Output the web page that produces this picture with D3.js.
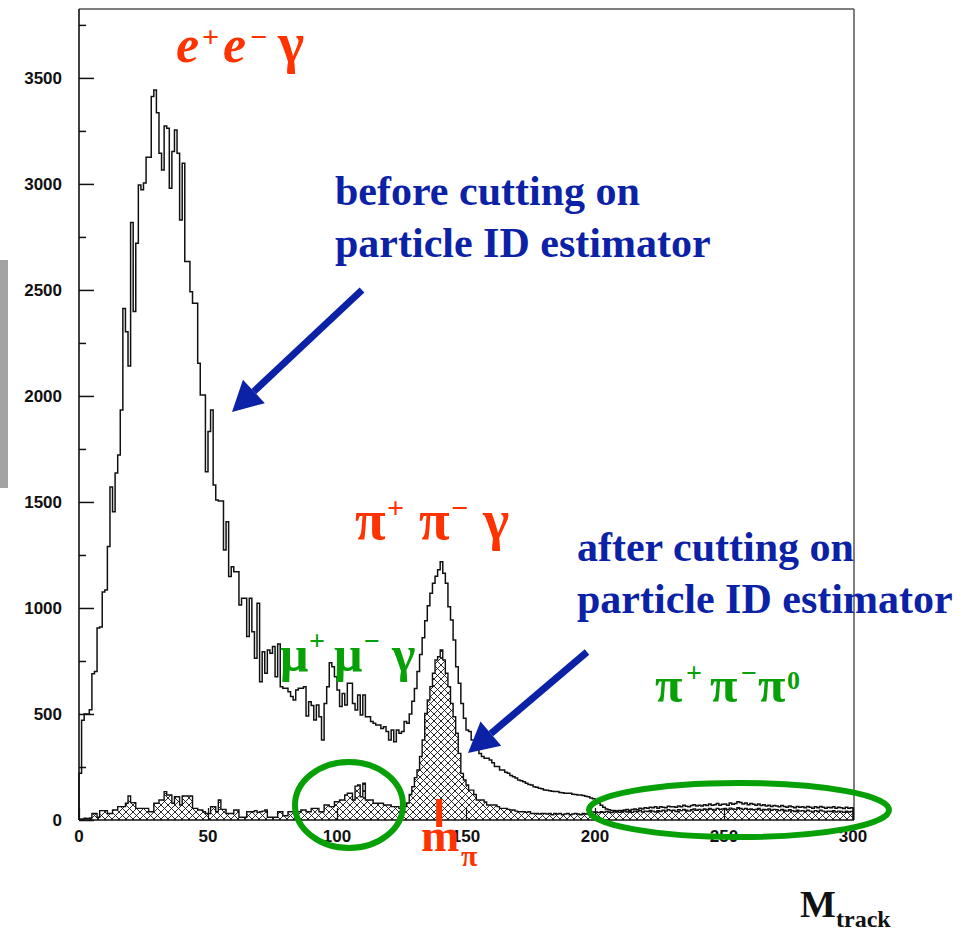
<!DOCTYPE html>
<html>
<head>
<meta charset="utf-8">
<script src="https://cdn.jsdelivr.net/npm/d3@7"></script>
<style>
  body { margin: 0; background: #fff; }
  svg { display: block; }
  .tick-label { font-family: "Liberation Sans", Arial, sans-serif; font-weight: bold; font-size: 17px; fill: #111; }
  .note { font-family: "Liberation Serif", "Times New Roman", serif; font-weight: bold; }
</style>
</head>
<body>
<div id="chart"></div>
<script>
// histogram x axis: M_track, one bin per unit from 0 to 300
let xTickValues = [0, 50, 100, 150, 200, 250, 300];
let yTickValues = [0, 500, 1000, 1500, 2000, 2500, 3000, 3500];

// entries per bin before the particle ID cut (open histogram)
let beforeCounts = [
  220, 470, 500, 500, 520, 690, 700, 905, 910, 1075,
  1085, 1290, 1571, 1454, 1637, 1722, 1934, 2413, 2303, 2141,
  2818, 2398, 2720, 2995, 2972, 3004, 3126, 3126, 3412, 3443,
  3336, 3145, 3066, 3273, 3262, 2980, 3153, 3254, 3145, 2830,
  3098, 2634, 2634, 2492, 2437, 2437, 2154, 2004, 2004, 1643,
  1832, 1934, 1580, 1509, 1505, 1505, 1274, 1407, 1148, 1195,
  1171, 1171, 1014, 1046, 1046, 865, 1046, 888, 763, 1022,
  652, 794, 692, 802, 786, 818, 676, 830, 629, 621,
  621, 605, 582, 566, 613, 621, 621, 629, 490, 558,
  540, 472, 542, 487, 377, 550, 629, 742, 723, 676,
  613, 535, 597, 542, 645, 645, 550, 519, 590, 495,
  590, 487, 487, 464, 456, 448, 448, 432, 440, 417,
  377, 425, 369, 425, 409, 417, 464, 456, 500, 560,
  620, 700, 780, 860, 940, 1010, 1070, 1117, 1150, 1180,
  1218, 1164, 1117, 1006, 943, 849, 723, 645, 550, 480,
  425, 417, 377, 360, 340, 314, 300, 291, 291, 283,
  270, 252, 252, 236, 236, 225, 220, 210, 204, 198,
  189, 185, 180, 173, 168, 165, 157, 155, 150, 147,
  141, 140, 138, 136, 134, 134, 130, 128, 126, 126,
  126, 122, 120, 118, 118, 115, 112, 110, 104, 100,
  94, 80, 70, 60, 52, 48, 45, 45, 42, 45,
  45, 47, 50, 45, 50, 52, 48, 55, 52, 58,
  55, 60, 58, 62, 55, 63, 60, 58, 65, 62,
  63, 60, 66, 62, 70, 65, 63, 68, 72, 66,
  70, 66, 72, 68, 75, 70, 72, 78, 70, 74,
  76, 70, 80, 74, 78, 86, 82, 76, 80, 72,
  78, 74, 70, 76, 68, 72, 66, 70, 64, 68,
  66, 62, 68, 64, 60, 66, 62, 58, 64, 60,
  62, 58, 64, 60, 56, 62, 58, 64, 60, 56,
  60, 58, 62, 56, 60, 58, 54, 60, 56, 58
];

// entries per bin after the cut (cross-hatched histogram)
let afterCounts = [
  5, 5, 8, 6, 10, 31, 31, 13, 44, 44,
  44, 31, 31, 47, 47, 63, 63, 63, 79, 113,
  82, 82, 55, 55, 55, 55, 55, 39, 39, 79,
  79, 94, 94, 134, 118, 118, 79, 110, 110, 71,
  113, 113, 113, 113, 55, 55, 47, 47, 39, 31,
  31, 63, 63, 39, 94, 50, 50, 31, 31, 31,
  47, 47, 13, 13, 13, 39, 39, 39, 44, 36,
  39, 42, 47, 13, 13, 13, 13, 39, 39, 20,
  20, 39, 39, 39, 39, 39, 47, 47, 39, 39,
  55, 55, 55, 39, 39, 71, 71, 63, 63, 86,
  86, 94, 94, 118, 126, 126, 94, 160, 165, 110,
  173, 94, 94, 94, 79, 79, 79, 79, 71, 71,
  71, 63, 63, 63, 55, 55, 63, 80, 120, 157,
  200, 236, 300, 377, 503, 566, 629, 692, 755, 770,
  802, 755, 692, 629, 550, 487, 409, 314, 220, 189,
  165, 141, 141, 120, 94, 94, 94, 85, 71, 71,
  71, 71, 63, 55, 55, 55, 50, 47, 47, 42,
  39, 39, 39, 36, 39, 31, 31, 31, 28, 31,
  31, 28, 31, 25, 31, 28, 31, 25, 28, 31,
  25, 28, 31, 28, 25, 31, 28, 31, 35, 38,
  38, 35, 39, 36, 40, 38, 35, 39, 40, 36,
  39, 42, 38, 40, 36, 42, 40, 44, 38, 42,
  40, 45, 42, 38, 44, 40, 46, 42, 48, 44,
  46, 40, 48, 44, 50, 46, 42, 48, 52, 46,
  50, 46, 52, 48, 54, 50, 47, 55, 50, 52,
  54, 48, 56, 52, 50, 58, 54, 50, 55, 50,
  52, 48, 50, 54, 46, 50, 48, 52, 46, 50,
  48, 44, 50, 46, 42, 48, 44, 40, 46, 42,
  44, 40, 46, 42, 38, 44, 40, 46, 42, 38,
  42, 40, 44, 38, 42, 40, 36, 42, 38, 40
];

let width = 974;
let height = 930;

let svg = d3.select("#chart").append("svg")
  .attr("width", width)
  .attr("height", height);

// cross hatch fill
let defs = svg.append("defs");
let hatch = defs.append("pattern")
  .attr("id", "hatch")
  .attr("patternUnits", "userSpaceOnUse")
  .attr("width", 7)
  .attr("height", 7);
hatch.append("rect").attr("width", 7).attr("height", 7).attr("fill", "#fff");
hatch.append("path")
  .attr("d", "M0,0L7,7M7,0L0,7")
  .attr("stroke", "#111")
  .attr("stroke-width", 0.9);

let xScale = d3.scaleLinear().domain([0, 300]).range([79, 853]);
let yScale = d3.scaleLinear().domain([0, 3825]).range([820, 9]);

function binPoints(counts) {
  let pts = counts.map((c, i) => [i, c]);
  pts.push([counts.length, counts[counts.length - 1]]);
  return pts;
}

let stepLine = d3.line()
  .x(d => xScale(d[0]))
  .y(d => yScale(d[1]))
  .curve(d3.curveStepAfter);

let stepArea = d3.area()
  .x(d => xScale(d[0]))
  .y0(yScale(0))
  .y1(d => yScale(d[1]))
  .curve(d3.curveStepAfter);

// frame
svg.append("line")
  .attr("x1", 79).attr("x2", 854).attr("y1", 9).attr("y2", 9)
  .attr("stroke", "#555").attr("stroke-width", 1.5);
svg.append("line")
  .attr("x1", 854).attr("x2", 854).attr("y1", 9).attr("y2", 820)
  .attr("stroke", "#555").attr("stroke-width", 1.5);

// after cut: hatched
let afterPts = binPoints(afterCounts);
svg.append("path")
  .attr("d", stepArea(afterPts))
  .attr("fill", "url(#hatch)");

// before cut: open outline
let beforePts = [[0, 0]].concat(binPoints(beforeCounts), [[300, 0]]);
svg.append("path")
  .attr("d", stepLine(beforePts))
  .attr("fill", "none")
  .attr("stroke", "#111")
  .attr("stroke-width", 1.5);

svg.append("path")
  .attr("d", stepLine(afterPts))
  .attr("fill", "none")
  .attr("stroke", "#111")
  .attr("stroke-width", 1.4);

// y axis, ticks pointing inside
let yAxis = d3.axisRight(yScale)
  .tickValues(d3.range(0, 3826, 250))
  .tickSize(0)
  .tickFormat("");
let yAxisG = svg.append("g").attr("transform", "translate(79,0)").call(yAxis);
yAxisG.select(".domain").remove();
yAxisG.selectAll(".tick line")
  .attr("x2", d => (d % 500 === 0 ? 15 : 7))
  .attr("stroke", "#111")
  .attr("stroke-width", 1.5);
svg.append("line")
  .attr("x1", 79).attr("x2", 79).attr("y1", 9).attr("y2", 820)
  .attr("stroke", "#111").attr("stroke-width", 1.6);

svg.selectAll(".ylab")
  .data(yTickValues)
  .enter()
  .append("text")
  .attr("class", "tick-label")
  .attr("x", 62)
  .attr("y", d => yScale(d) + 6)
  .attr("text-anchor", "end")
  .text(d => d);

// x axis
let xAxis = d3.axisTop(xScale).tickValues(xTickValues).tickSize(12).tickFormat("");
let xAxisG = svg.append("g").attr("transform", "translate(0,820)").call(xAxis);
xAxisG.select(".domain").remove();
xAxisG.selectAll(".tick line").attr("stroke", "#111").attr("stroke-width", 1.2);
svg.append("line")
  .attr("x1", 79).attr("x2", 854).attr("y1", 820).attr("y2", 820)
  .attr("stroke", "#111").attr("stroke-width", 1.6);

svg.selectAll(".xlab")
  .data(xTickValues)
  .enter()
  .append("text")
  .attr("class", "tick-label")
  .attr("x", d => xScale(d))
  .attr("y", 842)
  .attr("text-anchor", "middle")
  .text(d => d);

// gray slide edge at left
svg.append("rect")
  .attr("x", 0).attr("y", 260).attr("width", 8).attr("height", 228)
  .attr("fill", "#a3a3a3");

let red = "#ff3300";
let green = "#07a007";
let blue = "#0b22a6";

// e+ e- gamma
let eeg = svg.append("text").attr("class", "note").attr("fill", red).attr("font-size", 52);
eeg.append("tspan").attr("x", 176).attr("y", 62).attr("font-style", "italic").text("e");
eeg.append("tspan").attr("x", 202).attr("y", 47).attr("font-size", 30).text("+");
eeg.append("tspan").attr("x", 223).attr("y", 62).attr("font-style", "italic").text("e");
eeg.append("tspan").attr("x", 250).attr("y", 47).attr("font-size", 30).text("\u2212");
eeg.append("tspan").attr("x", 278).attr("y", 62).attr("font-size", 56).text("\u03b3");

// particle labels, glyph by glyph
function particleLabel(parts, color, size) {
  let t = svg.append("text").attr("class", "note").attr("fill", color).attr("font-size", size);
  parts.forEach(p => {
    t.append("tspan")
      .attr("x", p[0])
      .attr("y", p[1])
      .attr("font-size", p[3] || size)
      .text(p[2]);
  });
}

particleLabel([
  [355, 539, "\u03c0"], [387, 518, "+", 30], [419, 539, "\u03c0"],
  [451, 518, "\u2212", 30], [483, 539, "\u03b3"]
], red, 56);

particleLabel([
  [280, 671, "\u03bc"], [309, 650, "+", 28], [334, 671, "\u03bc"],
  [364, 650, "\u2212", 28], [392, 671, "\u03b3"]
], green, 50);

particleLabel([
  [655, 702, "\u03c0"], [686, 682, "+", 28], [710, 702, "\u03c0"],
  [741, 682, "\u2212", 28], [758, 702, "\u03c0"], [787, 689, "0", 26]
], green, 50);

// blue notes
function note(lines, x, y0) {
  lines.forEach((s, i) => {
    svg.append("text")
      .attr("class", "note")
      .attr("fill", blue)
      .attr("font-size", 42)
      .attr("x", x)
      .attr("y", y0 + i * 52)
      .text(s);
  });
}
note(["before cutting on", "particle ID estimator"], 335, 205);
note(["after cutting on", "particle ID estimator"], 577, 561);

// arrows
function arrow(x1, y1, x2, y2) {
  let ang = Math.atan2(y2 - y1, x2 - x1);
  let headLen = 30, headHalf = 16;
  let bx = x2 - headLen * Math.cos(ang);
  let by = y2 - headLen * Math.sin(ang);
  svg.append("line")
    .attr("x1", x1).attr("y1", y1).attr("x2", bx).attr("y2", by)
    .attr("stroke", blue).attr("stroke-width", 7);
  let px = -Math.sin(ang), py = Math.cos(ang);
  svg.append("path")
    .attr("d", `M${x2},${y2}L${bx + px * headHalf},${by + py * headHalf}L${bx - px * headHalf},${by - py * headHalf}Z`)
    .attr("fill", blue);
}
arrow(362, 290, 232, 412);
arrow(587, 652, 468, 753);

// green ellipses
svg.append("ellipse")
  .attr("cx", 349).attr("cy", 805).attr("rx", 54).attr("ry", 43)
  .attr("fill", "none").attr("stroke", green).attr("stroke-width", 6);
svg.append("ellipse")
  .attr("cx", 739).attr("cy", 810).attr("rx", 150).attr("ry", 27)
  .attr("fill", "none").attr("stroke", green).attr("stroke-width", 6);

// m_pi marker
svg.append("rect")
  .attr("x", xScale(139.6) - 3).attr("y", 799).attr("width", 6).attr("height", 28)
  .attr("fill", red);
let mpi = svg.append("text").attr("class", "note").attr("fill", red).attr("font-size", 46);
mpi.append("tspan").attr("x", 421).attr("y", 851).text("m");
mpi.append("tspan").attr("x", 461).attr("y", 866).attr("font-size", 30).text("\u03c0");

// axis title
let mt = svg.append("text").attr("class", "note").attr("fill", "#111");
mt.append("tspan").attr("x", 800).attr("y", 917).attr("font-size", 38).text("M");
mt.append("tspan").attr("x", 836).attr("y", 927).attr("font-size", 24).text("track");
</script>
</body>
</html>
